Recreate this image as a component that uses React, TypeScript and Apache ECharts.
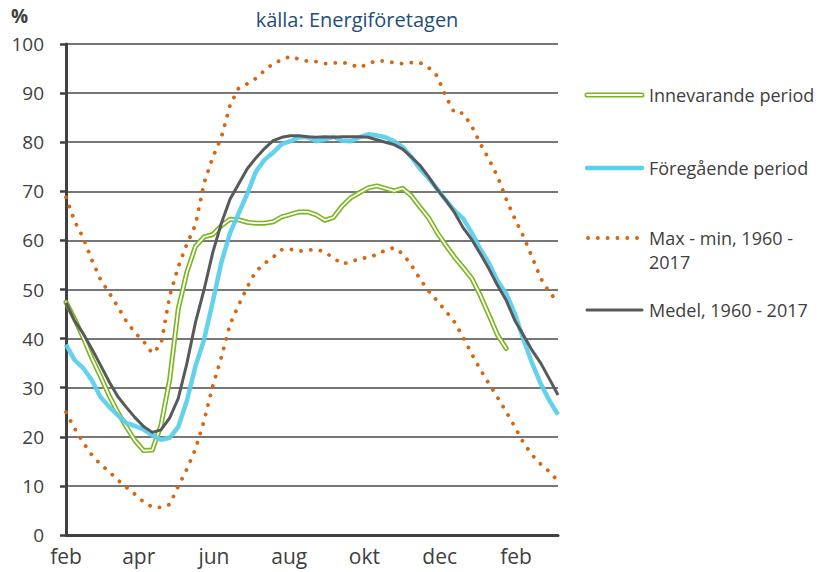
import React, { useEffect, useRef } from "react";
import * as echarts from "echarts";

// Day offsets from 1 Feb (weekly observations)
const days = [0, 7, 14, 21, 28, 35, 42, 49, 56, 63, 70, 77, 84, 91, 98, 105, 112, 119, 126, 133, 140, 147, 154, 161, 168, 175, 182, 189, 196, 203, 210, 217, 224, 231, 238, 245, 252, 259, 266, 273, 280, 287, 294, 301, 308, 315, 322, 329, 336, 343, 350, 357, 364, 371, 378, 385, 392, 399];

const innevarande = [47.4, 44, 40.2, 36, 32.3, 28.4, 25, 22, 19.2, 17.2, 17.3, 22.3, 31.5, 46, 53.5, 58.8, 60.7, 61.2, 63, 64.3, 64.2, 63.7, 63.5, 63.5, 63.8, 64.8, 65.3, 65.8, 65.8, 65.2, 64.1, 64.7, 67, 68.7, 69.7, 70.7, 71.1, 70.6, 70.1, 70.6, 69.1, 66.8, 64.6, 61.6, 59, 56.6, 54.5, 52.3, 48.8, 44.8, 40.7, 38];

const foregaende = [38.8, 35.6, 34, 31.5, 28.1, 26.1, 24.4, 22.8, 22.2, 21.5, 20.3, 19.4, 19.8, 22, 27.3, 34.4, 39.8, 47.5, 55.5, 61.5, 65.5, 69.5, 74, 76.4, 77.9, 79.6, 80.2, 81, 81, 80.2, 80.6, 81.1, 80.3, 80.2, 81, 81.6, 81.4, 81, 80.2, 79, 77, 74.6, 72.7, 70.5, 68.2, 66.1, 64.5, 61.6, 58.2, 55.4, 51.7, 49.2, 45.1, 39.8, 35, 30.8, 27.4, 24.5];

const maxValues = [68.8, 63.9, 60.5, 56, 52, 49.3, 46.5, 43.5, 41.2, 39.4, 37, 38.8, 48.6, 54.6, 59.2, 63.2, 71.7, 76.9, 81, 87.5, 91, 91.9, 93, 94.6, 96, 96.8, 97.5, 96.9, 96.5, 96.4, 96, 96.1, 96.3, 95.8, 95.2, 96, 96.6, 96.5, 96.2, 96, 96.2, 96.2, 95.2, 93.5, 89.3, 86, 85.9, 83.3, 79.7, 76.5, 73, 68.4, 64.4, 60.8, 56.6, 52.3, 49.4, 47.5];

const minValues = [25, 21.7, 18.8, 16.3, 14.4, 12.9, 11.2, 9.7, 8.3, 6.7, 5.7, 5.6, 6.2, 9.9, 13.4, 17.5, 23.3, 30.3, 36.2, 42.9, 46.8, 50.5, 53.7, 55.3, 56.6, 58.1, 58.2, 57.8, 58, 58.2, 57.6, 56.4, 55.2, 55.6, 56.3, 56.5, 57.1, 58, 58.5, 57.3, 55, 52.2, 49.7, 47.7, 45.6, 43.4, 40.3, 36.9, 33.7, 30.8, 28, 25.1, 22, 18.8, 16.3, 14.4, 12.9, 11];

const medel = [47.3, 43.6, 41, 37.9, 34.6, 31.2, 28.2, 26, 23.9, 22.1, 20.9, 21.4, 23.8, 27.8, 34.9, 43.3, 50, 57.5, 63.5, 68.4, 71.5, 74.6, 76.8, 78.7, 80.3, 81, 81.3, 81.3, 81.1, 81, 81.1, 81, 81.1, 81.1, 81.1, 81, 80.5, 80, 79.5, 78.6, 77, 75.3, 73, 70.4, 68.2, 65.7, 62.6, 60.2, 57.3, 54.2, 50.8, 47.8, 43.7, 40.7, 37.6, 35, 31.8, 28.5];

// Month tick labels (day offset from 1 Feb)
const monthTickDays = [0, 59, 120, 181, 242, 303, 365];
const monthTickLabels = ["feb", "apr", "jun", "aug", "okt", "dec", "feb"];

const seriesNames = ["Innevarande period", "Föregående period", "Max - min, 1960 - 2017", "Medel, 1960 - 2017"];
const legendTexts = ["Innevarande period", "Föregående period", "Max - min, 1960 -\n2017", "Medel, 1960 - 2017"];

const sourceText = "källa: Energiföretagen";
const unitText = "%";

const GREEN = "#79B51C";
const BLUE = "#5CCFEC";
const ORANGE = "#D9650E";
const GRAY = "#58595B";
const TEXT = "#404040";
const FONT = "'Open Sans', Lato, sans-serif";
const DOT_DASH = [0.1, 9.7];

const pairs = (vals: number[]) => vals.map((v, i) => [days[i], v]);

export default function App() {
  const ref = useRef<HTMLDivElement>(null);

  useEffect(() => {
    if (!ref.current) return;
    const chart = echarts.init(ref.current, null, { renderer: "svg" });

    const legendX1 = 587;
    const legendX2 = 642;
    const legendYs = [95, 168, 238, 310];
    const textX = 649;

    const graphic: any[] = [
      {
        type: "text",
        left: 11,
        top: 6,
        style: { text: unitText, fill: TEXT, font: `bold 19px ${FONT}` },
      },
      {
        type: "text",
        x: 357,
        y: 19,
        style: {
          text: sourceText,
          fill: "#1F4E79",
          font: `20px ${FONT}`,
          textAlign: "center",
          textVerticalAlign: "middle",
        },
      },
      // legend: Innevarande (double line)
      {
        type: "line",
        shape: { x1: legendX1, y1: legendYs[0], x2: legendX2, y2: legendYs[0] },
        style: { stroke: GREEN, lineWidth: 5, lineCap: "round" },
      },
      {
        type: "line",
        shape: { x1: legendX1, y1: legendYs[0], x2: legendX2, y2: legendYs[0] },
        style: { stroke: "#ffffff", lineWidth: 1.8, lineCap: "round" },
      },
      // Föregående
      {
        type: "line",
        shape: { x1: legendX1, y1: legendYs[1], x2: legendX2, y2: legendYs[1] },
        style: { stroke: BLUE, lineWidth: 4.5, lineCap: "round" },
      },
      // Max - min
      {
        type: "line",
        shape: { x1: 588, y1: legendYs[2], x2: 638, y2: legendYs[2] },
        style: { stroke: ORANGE, lineWidth: 3.8, lineCap: "round", lineDash: DOT_DASH },
      },
      // Medel
      {
        type: "line",
        shape: { x1: legendX1, y1: legendYs[3], x2: legendX2, y2: legendYs[3] },
        style: { stroke: GRAY, lineWidth: 3, lineCap: "round" },
      },
    ];
    legendTexts.forEach((t, i) => {
      graphic.push({
        type: "text",
        x: textX,
        y: legendYs[i] - 12,
        style: {
          text: t,
          fill: TEXT,
          font: `18px ${FONT}`,
          lineHeight: 24,
          textAlign: "left",
          textVerticalAlign: "top",
        },
      });
    });

    const option: any = {
      animation: false,
      backgroundColor: "#ffffff",
      textStyle: { fontFamily: FONT },
      grid: { left: 66, right: 260, top: 44, bottom: 37, containLabel: false },
      xAxis: {
        type: "value",
        min: 0,
        max: days[days.length - 1],
        axisLine: { show: true, lineStyle: { color: TEXT, width: 3 } },
        axisTick: { show: false },
        splitLine: { show: false },
        axisLabel: {
          customValues: monthTickDays,
          formatter: (v: number) => {
            const idx = monthTickDays.indexOf(v);
            return idx >= 0 ? monthTickLabels[idx] : "";
          },
          color: TEXT,
          fontSize: 21,
          fontFamily: FONT,
          margin: 10,
          showMinLabel: true,
          showMaxLabel: true,
        },
      },
      yAxis: {
        type: "value",
        min: 0,
        max: 100,
        interval: 10,
        axisLine: { show: true, lineStyle: { color: TEXT, width: 3 } },
        axisTick: { show: true, length: 6, inside: false, lineStyle: { color: TEXT, width: 2.5 } },
        splitLine: { show: true, lineStyle: { color: "#4a4a4a", width: 1.5 } },
        axisLabel: { color: TEXT, fontSize: 19, fontFamily: FONT, margin: 22 },
      },
      series: [
        {
          name: seriesNames[0],
          type: "line",
          data: pairs(innevarande),
          symbol: "none",
          lineStyle: { color: GREEN, width: 5, join: "round", cap: "round" },
          z: 2,
        },
        {
          name: seriesNames[0] + " (inner)",
          type: "line",
          data: pairs(innevarande),
          symbol: "none",
          lineStyle: { color: "#ffffff", width: 1.8, join: "round", cap: "round" },
          z: 2,
        },
        {
          name: seriesNames[1],
          type: "line",
          data: pairs(foregaende),
          symbol: "none",
          lineStyle: { color: BLUE, width: 4.5, join: "round", opacity: 0.95 },
          z: 3,
        },
        {
          name: seriesNames[2] + " max",
          type: "line",
          data: pairs(maxValues),
          symbol: "none",
          lineStyle: { color: ORANGE, width: 3.8, type: DOT_DASH, cap: "round", join: "round" },
          z: 4,
        },
        {
          name: seriesNames[2] + " min",
          type: "line",
          data: pairs(minValues),
          symbol: "none",
          lineStyle: { color: ORANGE, width: 3.8, type: DOT_DASH, cap: "round", join: "round" },
          z: 4,
        },
        {
          name: seriesNames[3],
          type: "line",
          data: pairs(medel),
          symbol: "none",
          lineStyle: { color: GRAY, width: 3, join: "round" },
          z: 5,
        },
      ],
      graphic,
    };

    chart.setOption(option);
    return () => chart.dispose();
  }, []);

  return (
    <div
      ref={ref}
      style={{ position: "absolute", left: 0, top: 0, width: 818, height: 572 }}
    />
  );
}
